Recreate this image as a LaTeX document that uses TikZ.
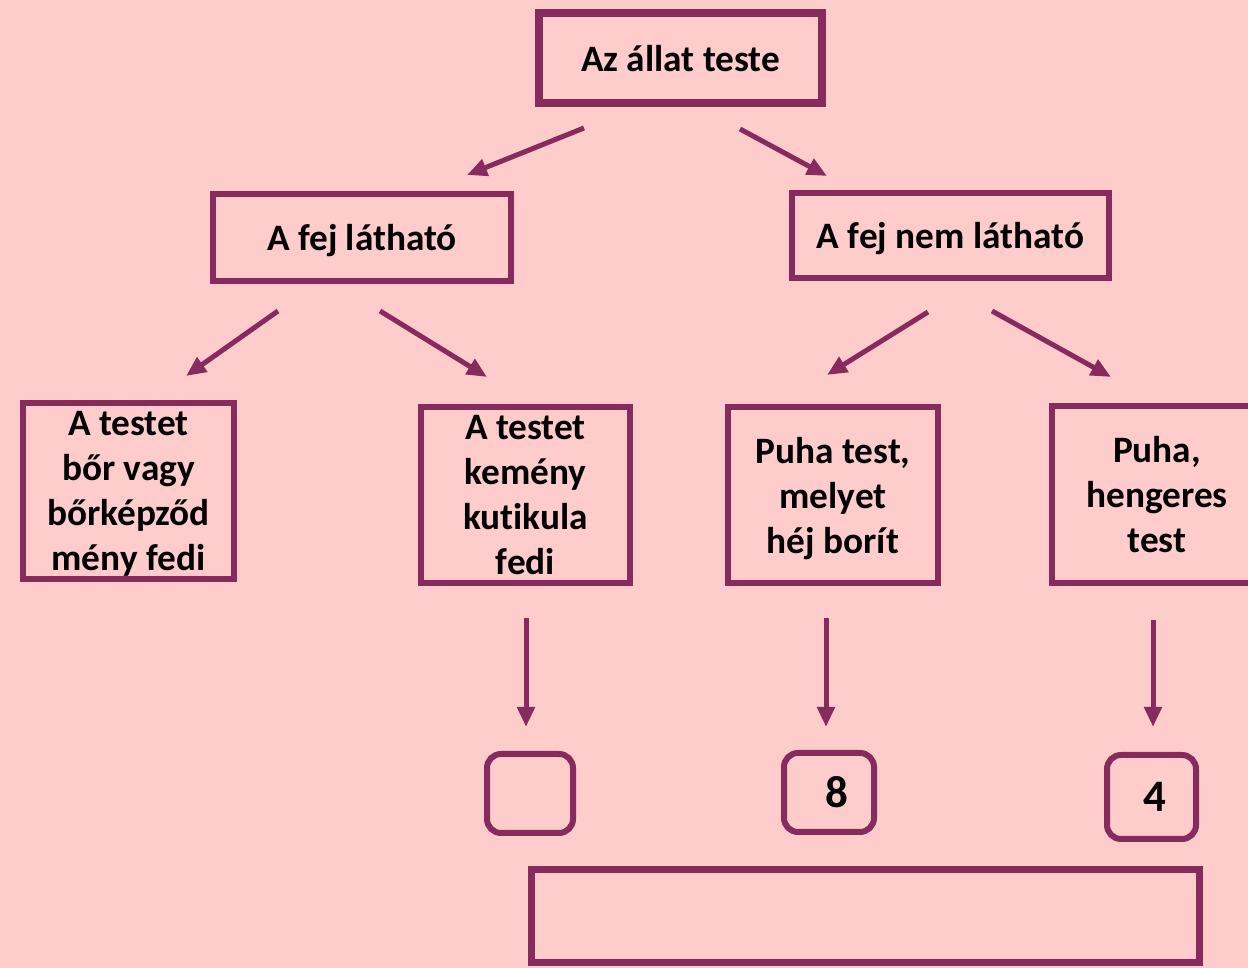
\documentclass[tikz,border=0pt]{standalone}
\usepackage{fontspec}
\setmainfont{Carlito}[Ligatures=CommonOff]
\usepackage{xcolor}
\usepackage{tikz}
\usetikzlibrary{arrows.meta}

\definecolor{plumline}{RGB}{135,43,95}
\definecolor{bgpink}{RGB}{255,204,204}

\begin{document}
\begin{tikzpicture}[
    x=1pt, y=1pt,
    box/.style={rectangle, draw=plumline, line width=6pt, inner sep=0pt, align=center, text depth=0pt, font=\fontsize{37.3}{45}\selectfont\bfseries},
    numbox/.style={rectangle, rounded corners=14pt, draw=plumline, line width=6pt, inner sep=0pt, font=\fontsize{45}{54}\selectfont\bfseries},
    link/.style={draw=plumline, line width=5pt, -{Triangle[length=20pt, width=17pt]}}
]
    \useasboundingbox (0,0) rectangle (1248,968);
    \clip (0,0) rectangle (1248,968);
    \fill[bgpink] (0,0) rectangle (1248,968);

    \node[box, line width=8pt, minimum width=283, minimum height=90] (body) at (680.5,910) {Az állat teste};

    \node[box, minimum width=298, minimum height=87] (headyes) at (362,730.5) {A fej látható};
    \node[box, minimum width=317, minimum height=85] (headno) at (950.5,732.5) {A fej nem látható};

    \node[box, minimum width=211, minimum height=176] (skin) at (128.5,477) {A testet\\bőr vagy\\bőrképződ\\mény fedi};
    \node[box, minimum width=209, minimum height=176] (cuticle) at (525.5,473) {A testet\\kemény\\kutikula\\fedi};
    \node[box, minimum width=210, minimum height=176] (shell) at (833,473) {Puha test,\\melyet\\héj borít};
    \node[box, minimum width=210, minimum height=177] (worm) at (1157,473.5) {Puha,\\hengeres\\test};

    \node[numbox, minimum width=86, minimum height=79] (cuticlenum) at (530,174.5) {};
    \node[numbox, minimum width=90, minimum height=79] (shellnum) at (829,175.5) {\hspace*{15pt}8};
    \node[numbox, minimum width=89, minimum height=84] (wormnum) at (1151.5,171) {\hspace*{6pt}4};

    \node[box, line width=7pt, minimum width=668, minimum height=93] (total) at (865,51.5) {};

    % Arrows between the levels
    \draw[link] ([shift={(-96.5,-21)}]body.south) -- ([shift={(105,16)}]headyes.north);
    \draw[link] ([shift={(59.5,-22)}]body.south) -- ([shift={(-123.5,14)}]headno.north);
    \draw[link] ([shift={(-84,-27)}]headyes.south) -- ([shift={(57.5,24)}]skin.north);
    \draw[link] ([shift={(18,-27)}]headyes.south) -- ([shift={(-38.5,27)}]cuticle.north);
    \draw[link] ([shift={(-22.5,-31)}]headno.south) -- ([shift={(-6,29)}]shell.north);
    \draw[link] ([shift={(41.5,-30)}]headno.south) -- ([shift={(-46,26)}]worm.north);

    % Arrows down to the numbers
    \draw[link] ([shift={(0.5,-32)}]cuticle.south) -- ([shift={(-4,24)}]cuticlenum.north);
    \draw[link] ([shift={(-7,-32)}]shell.south) -- ([shift={(-3,23)}]shellnum.north);
    \draw[link] ([shift={(-4,-34)}]worm.south) -- ([shift={(1.5,25)}]wormnum.north);

\end{tikzpicture}
\end{document}
